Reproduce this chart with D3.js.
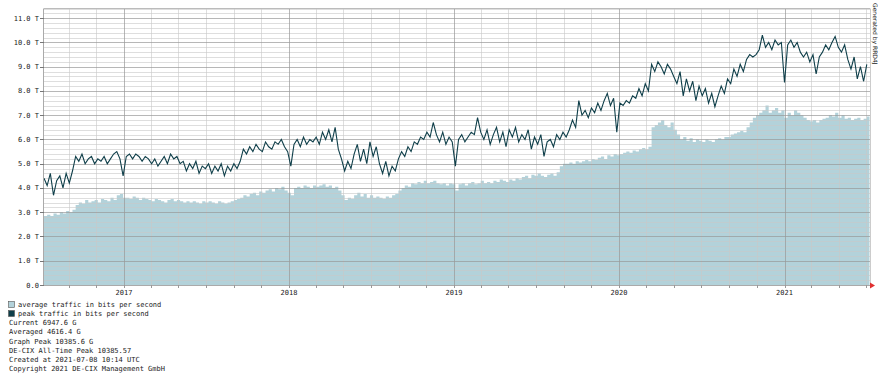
<!DOCTYPE html>
<html>
<head>
<meta charset="utf-8">
<script src="https://cdn.jsdelivr.net/npm/d3@7"></script>
<style>
  body { margin: 0; background: #fff; }
  svg { display: block; }
  text { font-family: "DejaVu Sans Mono", monospace; font-size: 7px; fill: #222; }
</style>
</head>
<body>
<div id="chart"></div>
<script>
// weekly samples, first one on the start date
const startDate = new Date(Date.UTC(2016, 6, 8));
const endDate = new Date(Date.UTC(2021, 6, 8));

const yTicks = [0, 1, 2, 3, 4, 5, 6, 7, 8, 9, 10, 11];
const yearTicks = ['2017', '2018', '2019', '2020', '2021'];

// peak traffic, Tbit/s
const peakT = [
  4.4, 4.1, 4.6, 3.7, 4.3, 4.5, 4.0, 4.6, 4.2, 4.7,
  5.3, 5.1, 5.4, 5.0, 5.2, 5.3, 5.0, 5.2, 5.1, 5.3,
  5.0, 5.2, 5.4, 5.5, 5.2, 4.5, 5.3, 5.4, 5.2, 5.4,
  5.3, 5.1, 5.3, 5.2, 5.0, 5.2, 4.9, 5.1, 5.3, 5.0,
  5.4, 5.2, 5.3, 5.0, 5.1, 4.7, 5.0, 4.8, 5.1, 4.6,
  4.9, 4.8, 5.0, 4.6, 4.9, 4.7, 5.0, 4.5, 4.9, 4.7,
  5.0, 4.8, 5.1, 5.6, 5.4, 5.7, 5.5, 5.8, 5.6, 5.5,
  5.9, 5.7, 5.6, 5.9, 5.8, 6.0, 5.7, 5.5, 4.9, 5.8,
  6.0, 5.7, 6.1, 5.8, 6.0, 5.9, 6.1, 5.8, 6.3, 6.0,
  6.4, 5.9, 6.5, 5.6, 5.2, 4.7, 5.1, 4.8, 5.4, 5.8,
  5.1, 5.6, 5.0, 5.9, 5.3, 5.7, 5.0, 4.6, 5.1, 4.5,
  4.9, 4.7, 5.2, 5.5, 5.3, 5.7, 5.5, 5.9, 5.8, 6.1,
  6.0, 6.3, 6.1, 6.7, 6.2, 5.9, 6.3, 5.8, 6.1, 5.9,
  4.9, 6.0, 6.2, 5.9, 6.1, 6.3, 6.2, 6.9, 6.3, 6.0,
  6.4, 5.8, 6.2, 6.5, 5.9, 6.3, 5.7, 6.4, 6.1, 6.5,
  5.9, 6.2, 6.0, 6.4, 5.6, 6.1, 5.8, 6.2, 5.3, 5.9,
  6.0, 5.7, 6.2, 6.0, 6.3, 6.1, 6.4, 6.8, 6.5, 7.6,
  7.0, 7.2, 6.9, 7.3, 7.1, 7.5, 7.2, 7.6, 7.9, 7.4,
  7.7, 6.3, 7.5, 7.4, 7.6, 7.5, 7.8, 7.7, 8.1, 7.8,
  8.3, 8.0, 9.1, 8.8, 9.2, 9.0, 8.7, 9.1, 8.9, 8.6,
  8.3, 8.8, 7.8, 8.5, 8.0, 8.4, 7.6, 8.2, 7.8, 8.1,
  7.5, 7.9, 7.35, 7.8, 8.2, 7.9, 8.5, 8.3, 8.9, 8.6,
  9.1, 8.8, 9.3, 9.5, 9.4, 9.5, 9.7, 10.3, 9.8, 10.0,
  9.7, 10.1, 9.9, 10.0, 8.35, 9.9, 10.1, 9.8, 10.0, 9.6,
  9.4, 9.6, 9.2, 9.5, 8.7, 9.4, 9.6, 9.9, 9.7, 10.0,
  10.25, 9.8, 9.6, 9.9, 9.3, 8.9, 9.4, 8.5, 9.0, 8.4,
  9.1
];

// average traffic, Tbit/s
const avgT = [
  2.85, 2.9, 2.85, 2.95, 2.9, 3.0, 2.95, 3.05, 3.0, 3.1,
  3.3, 3.4, 3.35, 3.5, 3.4, 3.45, 3.5, 3.4, 3.55, 3.5,
  3.45, 3.6, 3.5, 3.7, 3.75, 3.6, 3.6, 3.55, 3.65, 3.6,
  3.5, 3.6, 3.55, 3.5, 3.45, 3.55, 3.5, 3.45, 3.4, 3.5,
  3.55, 3.45, 3.5, 3.45, 3.4, 3.45, 3.4, 3.45, 3.4, 3.35,
  3.45, 3.4, 3.45, 3.4, 3.35, 3.45, 3.4, 3.35, 3.4, 3.45,
  3.5, 3.55, 3.6, 3.7, 3.65, 3.75, 3.8, 3.7, 3.85, 3.8,
  3.9, 3.95, 3.85, 4.0, 3.95, 4.05, 3.9, 3.8, 3.7, 4.0,
  4.05, 4.0, 4.1, 4.05, 4.0, 4.1, 4.05, 4.1, 4.15, 4.05,
  4.1, 4.0, 4.05, 3.9, 3.7, 3.5, 3.6, 3.55, 3.7, 3.8,
  3.65, 3.75, 3.6, 3.7, 3.6, 3.65, 3.6, 3.55, 3.65, 3.6,
  3.7, 3.75, 3.9, 4.0, 4.1, 4.05, 4.2, 4.15, 4.25, 4.2,
  4.3, 4.2, 4.25, 4.3, 4.2, 4.15, 4.2, 4.1, 4.2, 4.15,
  3.9, 4.15, 4.2, 4.1, 4.2, 4.25, 4.15, 4.2, 4.3, 4.2,
  4.25, 4.2, 4.3, 4.25, 4.35, 4.3, 4.25, 4.35, 4.3, 4.4,
  4.35, 4.45, 4.5, 4.4, 4.55, 4.5, 4.6, 4.5, 4.45, 4.55,
  4.6, 4.5, 4.65, 4.9, 5.0, 5.0, 5.05, 5.0, 5.1, 5.05,
  5.1, 5.15, 5.1, 5.2, 5.15, 5.25, 5.3, 5.2, 5.35, 5.3,
  5.4, 5.35, 5.4, 5.45, 5.5, 5.45, 5.55, 5.5, 5.6, 5.65,
  5.6, 5.7, 6.5, 6.6, 6.7, 6.8, 6.6, 6.5, 6.7, 6.4,
  6.2, 6.0, 6.1, 5.95, 6.05, 5.9, 6.0, 5.95, 5.9, 6.0,
  5.95, 5.9, 6.0, 6.05, 6.0, 6.1, 6.1, 6.2, 6.25, 6.3,
  6.35, 6.3, 6.5, 6.7, 6.9, 7.0, 7.1, 7.2, 7.4, 7.1,
  7.2, 7.3, 7.1, 7.2, 6.9, 7.1, 7.0, 7.2, 7.1, 7.0,
  6.9, 6.8, 6.75, 6.8, 6.7, 6.8, 6.85, 6.9, 7.0, 6.95,
  7.1, 6.9, 7.0, 6.85, 6.9, 6.8, 6.85, 6.9, 6.8, 6.85,
  6.95
];

const legendSeries = [
  { label: 'average traffic in bits per second', color: '#b3d2da' },
  { label: 'peak traffic in bits per second', color: '#0f3f4a' }
];
const infoLines = [
  'Current 6947.6 G',
  'Averaged 4616.4 G',
  'Graph Peak 10385.6 G',
  'DE-CIX All-Time Peak 10385.57',
  'Created at 2021-07-08 10:14 UTC',
  'Copyright 2021 DE-CIX Management GmbH'
];

const width = 880;
const height = 377;

const svg = d3.select('#chart')
  .append('svg')
  .attr('width', width)
  .attr('height', height);

const x = d3.scaleUtc().domain([startDate, endDate]).range([44, 869.5]);
const y = d3.scaleLinear().domain([0, 11.4]).range([285, 8.5]);

const avgData = avgT.map((v, i) => ({ date: d3.utcDay.offset(startDate, 7 * i), v }));
const peakData = peakT.map((v, i) => ({ date: d3.utcDay.offset(startDate, 7 * i), v }));
// carry the last sample to the right edge
const avgDrawn = avgData.concat([{ date: endDate, v: avgT[avgT.length - 1] }]);

// average area
svg.append('path')
  .datum(avgDrawn)
  .attr('fill', '#b3d2da')
  .attr('d', d3.area()
    .curve(d3.curveStepAfter)
    .x(d => x(d.date))
    .y0(y(0))
    .y1(d => y(d.v)));

// grid
const grid = svg.append('g');
const minorY = d3.range(1, 58).map(i => i / 5).filter(v => v % 1 !== 0);
grid.selectAll('.hminor')
  .data(minorY)
  .enter()
  .append('line')
  .attr('x1', 44).attr('x2', 870)
  .attr('y1', d => Math.round(y(d)) + 0.5)
  .attr('y2', d => Math.round(y(d)) + 0.5)
  .attr('stroke', '#c8c8c8')
  .attr('stroke-opacity', 0.6);

const minorX = d3.utcMonth.every(2).range(startDate, endDate)
  .filter(d => d.getUTCMonth() !== 0);
grid.selectAll('.vminor')
  .data(minorX)
  .enter()
  .append('line')
  .attr('x1', d => Math.round(x(d)) + 0.5)
  .attr('x2', d => Math.round(x(d)) + 0.5)
  .attr('y1', 8.5).attr('y2', 285)
  .attr('stroke', '#c8c8c8')
  .attr('stroke-opacity', 0.6);

grid.selectAll('.hmajor')
  .data(yTicks.slice(1))
  .enter()
  .append('line')
  .attr('x1', 44).attr('x2', 870)
  .attr('y1', d => Math.round(y(d)) + 0.5)
  .attr('y2', d => Math.round(y(d)) + 0.5)
  .attr('stroke', '#999')
  .attr('stroke-opacity', 0.7);

const yearDates = yearTicks.map(t => new Date(Date.UTC(+t, 0, 1)));
grid.selectAll('.vmajor')
  .data(yearDates)
  .enter()
  .append('line')
  .attr('x1', d => Math.round(x(d)) + 0.5)
  .attr('x2', d => Math.round(x(d)) + 0.5)
  .attr('y1', 8.5).attr('y2', 285)
  .attr('stroke', '#999')
  .attr('stroke-opacity', 0.7);

// peak line
svg.append('path')
  .datum(peakData)
  .attr('fill', 'none')
  .attr('stroke', '#0f3f4a')
  .attr('stroke-width', 1.1)
  .attr('d', d3.line()
    .x(d => x(d.date))
    .y(d => y(d.v)));

// frame
svg.append('line')
  .attr('x1', 44).attr('x2', 870).attr('y1', 8.5).attr('y2', 8.5)
  .attr('stroke', '#bbb');
svg.append('line')
  .attr('x1', 43.5).attr('x2', 43.5).attr('y1', 8.5).attr('y2', 285)
  .attr('stroke', '#aaa');
svg.append('line')
  .attr('x1', 870.5).attr('x2', 870.5).attr('y1', 8.5).attr('y2', 285)
  .attr('stroke', '#ccc');
svg.append('line')
  .attr('x1', 41).attr('x2', 870).attr('y1', 285.5).attr('y2', 285.5)
  .attr('stroke', '#aaa');

// red arrow at the end of the time axis
svg.append('path')
  .attr('d', 'M870,282.5 L875,285.5 L870,288.5 Z')
  .attr('fill', '#e03030');

// y axis labels and ticks
svg.selectAll('.ytick')
  .data(yTicks)
  .enter()
  .append('line')
  .attr('x1', 40).attr('x2', 44)
  .attr('y1', d => Math.round(y(d)) + 0.5)
  .attr('y2', d => Math.round(y(d)) + 0.5)
  .attr('stroke', '#777');
svg.selectAll('.ylabel')
  .data(yTicks)
  .enter()
  .append('text')
  .attr('x', 39)
  .attr('y', d => y(d) + 2.5)
  .attr('text-anchor', 'end')
  .attr('fill', '#333')
  .text(d => d === 0 ? '0.0' : d.toFixed(1) + ' T');

// x ticks
svg.selectAll('.xtick')
  .data(minorX.concat(yearDates))
  .enter()
  .append('line')
  .attr('x1', d => Math.round(x(d)) + 0.5)
  .attr('x2', d => Math.round(x(d)) + 0.5)
  .attr('y1', 285).attr('y2', 288)
  .attr('stroke', '#999');
svg.selectAll('.xlabel')
  .data(yearTicks)
  .enter()
  .append('text')
  .attr('x', (d, i) => x(yearDates[i]))
  .attr('y', 294.5)
  .attr('text-anchor', 'middle')
  .attr('fill', '#333')
  .text(d => d);

// watermark
svg.append('text')
  .attr('transform', 'translate(872.5,3) rotate(90)')
  .style('font-size', '6px')
  .style('font-family', '"DejaVu Sans", sans-serif')
  .attr('fill', '#bbb')
  .text('Generated by RRD4J');

// legend
const legend = svg.append('g');
legendSeries.forEach((s, i) => {
  legend.append('rect')
    .attr('x', 8.5).attr('y', 301.5 + i * 9)
    .attr('width', 6).attr('height', 6)
    .attr('fill', s.color)
    .attr('stroke', '#555')
    .attr('stroke-width', 0.6);
  legend.append('text')
    .attr('x', 18)
    .attr('y', 307.3 + i * 9.05)
    .text(s.label);
});
infoLines.forEach((t, i) => {
  legend.append('text')
    .attr('x', 9)
    .attr('y', 325.4 + i * 9.05)
    .text(t);
});
</script>
</body>
</html>
